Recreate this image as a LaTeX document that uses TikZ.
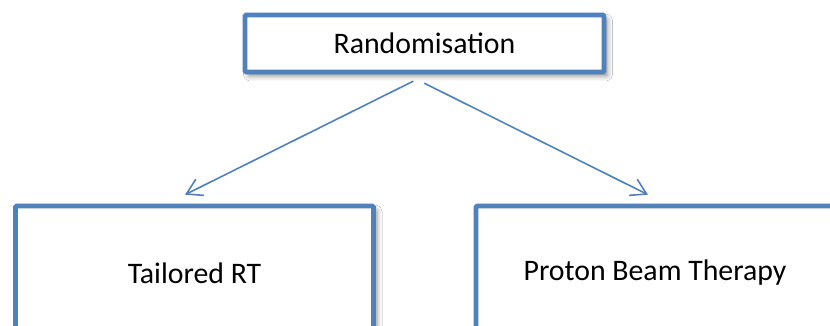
\documentclass[tikz,border=0pt]{standalone}
\usepackage{fontspec}
\setmainfont{Carlito}
\usetikzlibrary{arrows.meta,shadows.blur}
\definecolor{boxblue}{HTML}{4F81BD}
\tikzset{
  x=1pt, y=-1pt,
  trialbox/.style={draw=boxblue, line width=4.6pt, fill=white, rounded corners=1.2pt,
    blur shadow={shadow xshift=3.5pt, shadow yshift=-4pt, shadow blur radius=5pt, shadow opacity=45},
    font=\fontsize{29.8}{35}\selectfont, text=black, inner sep=0pt},
  armbox/.style={trialbox, minimum width=358pt, minimum height=134pt},
  branch/.style={draw=boxblue, line width=1.6pt, line cap=round,
    -{Straight Barb[length=15pt, width=18pt, line width=1.6pt]}}
}
\begin{document}
\begin{tikzpicture}
\useasboundingbox (0,0) rectangle (830,326);
\clip (0,0) rectangle (830,326);
\fill[white] (0,0) rectangle (830,326);
% trial arms
\node[trialbox, minimum width=359pt, minimum height=57pt] (rand) at (424.5,43.5) {Randomisation};
\node[armbox] (tail) at (194.5,273) {Tailored RT};
\node[armbox] (pbt) at (655,273) {Proton Beam Therapy};
% allocation arrows
\draw[branch] ([xshift=-11.5pt, yshift=-7pt]rand.south) -- ([xshift=-9.5pt, yshift=9pt]tail.north);
\draw[branch] ([xshift=0pt, yshift=-9pt]rand.south) -- ([xshift=-7pt, yshift=9pt]pbt.north);
\end{tikzpicture}
\end{document}
